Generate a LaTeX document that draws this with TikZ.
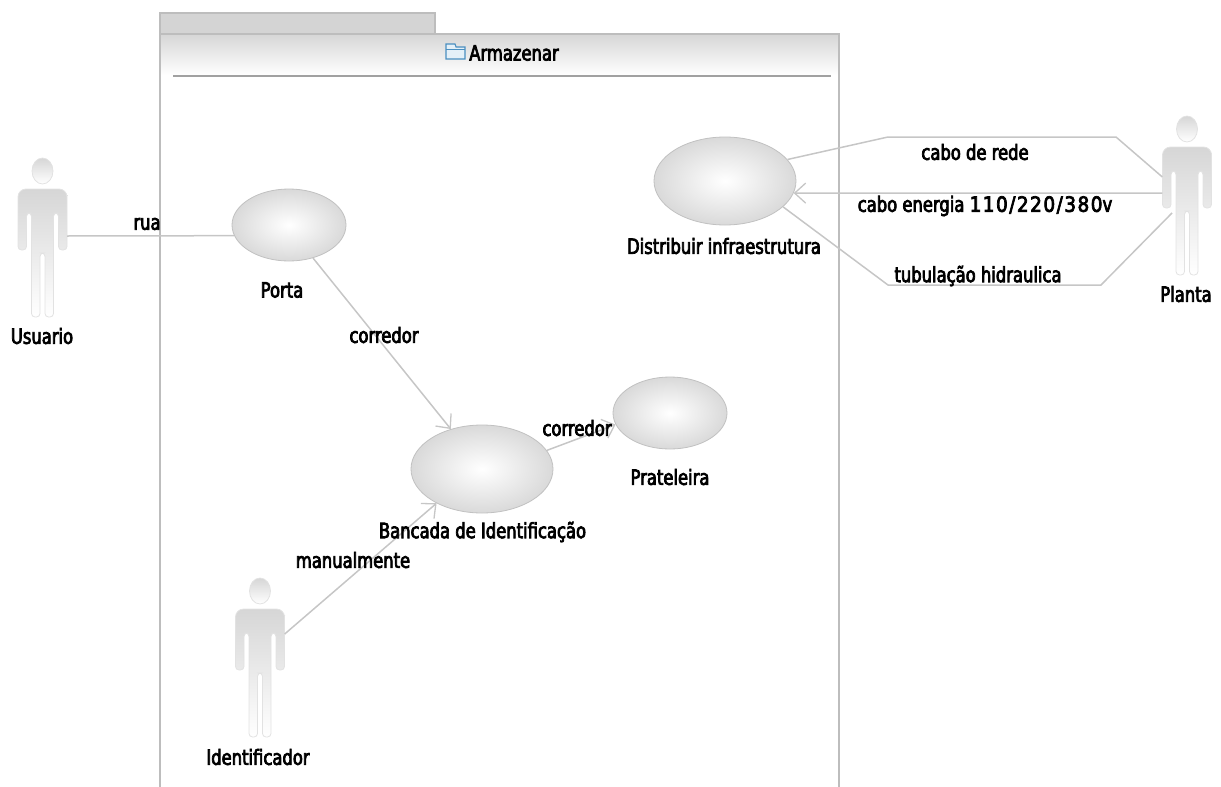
\documentclass[tikz,border=0pt]{standalone}
\usepackage{fontspec}
\setmainfont[FakeStretch=0.78,FakeBold=3.5]{DejaVu Sans}
\newfontfamily\digitfont[FakeStretch=0.88,FakeBold=3.5,LetterSpace=7]{DejaVu Sans}
\usetikzlibrary{shapes.geometric,arrows.meta,calc}
\definecolor{linegray}{HTML}{C6C6C6}
\definecolor{framegray}{HTML}{BDBDBD}
\definecolor{tabgray}{HTML}{D4D4D4}
\definecolor{shadegray}{HTML}{D6D6D6}
\definecolor{iconblue}{HTML}{4A8FC0}
\definecolor{iconfill}{HTML}{E4F0F8}
\tikzset{
  usecase/.style={ellipse,draw=shadegray!90!black,line width=0.8pt,inner color=white,outer color=shadegray!92!white,inner sep=0pt},
  actorbox/.style={rectangle,minimum width=49pt,minimum height=160pt,inner sep=0pt},
  actorpart/.style={draw=shadegray!70!white,line width=0.8pt,top color=shadegray,bottom color=white},
  conn/.style={draw=linegray,line width=1.5pt},
  openarrow/.style={-{Straight Barb[length=11pt,width=20pt,line width=1.3pt]}},
  lbl/.style={inner sep=0pt,font=\fontsize{21}{24}\selectfont,text=black},
  frameline/.style={draw=framegray,line width=1.5pt}
}
\newcommand{\myactor}[4]{%
  \node[actorbox] (#1) at (#2,#4) {};
  \begin{scope}[shift={(#2,#3)}]
    \path[actorpart] (0,13) ellipse [x radius=10.5,y radius=13];
    \path[actorpart] (-24.5,45) [rounded corners=8pt] -- (-24.5,31) -- (24.5,31) -- (24.5,45) [rounded corners=3.5pt] -- (24.5,92)--(16,92)--(16,55)--(11,55)--(11,159)--(2.5,159)--(2.5,95)--(-2.5,95)--(-2.5,159)--(-11,159)--(-11,55)--(-16,55)--(-16,92)--(-24.5,92)--cycle;
  \end{scope}}
\begin{document}
\begin{tikzpicture}[x=1pt,y=-1pt]
\useasboundingbox (0,0) rectangle (1221,787);
% package
\path[fill=tabgray,frameline] (160,34) -- (160,13) -- (435,13) -- (435,34) -- cycle;
\path[top color=shadegray,bottom color=white] (160,34) rectangle (839,75);
\draw[frameline] (160,787) -- (160,34) -- (839,34) -- (839,787);
\draw[draw=framegray!85!black,line width=1.2pt] (173,76) -- (831,76);
% folder icon
\path[draw=iconblue,fill=iconfill,line width=1.1pt] (446,59) -- (446,44) -- (455,44) -- (456,47) -- (465,47) -- (465,59) -- cycle;
\draw[iconblue,line width=1pt] (446,49) -- (465,49);
\node[lbl] (pkg) at (514,53) {Armazenar};
% use cases
\node[usecase,minimum width=114pt,minimum height=72pt] (porta) at (289,225) {};
\node[usecase,minimum width=142pt,minimum height=88pt] (dist) at (725,181) {};
\node[usecase,minimum width=142pt,minimum height=88pt] (banc) at (482,469) {};
\node[usecase,minimum width=114pt,minimum height=72pt] (prat) at (670,413) {};
% actors
\myactor{usuario}{42.5}{158}{236}
\myactor{planta}{1187}{116}{193}
\myactor{ident}{260}{578}{634}
% helper points
\coordinate (redeA) at (888,137);
\coordinate (redeB) at (1116,137);
\coordinate (tubA) at (888,285);
\coordinate (tubB) at (1101,285);
\coordinate (plantaleg) at (1172,213);
% connectors
\draw[conn] (usuario.east) -- (porta.191.5);
\draw[conn,openarrow] (porta.-54) -- (banc.128.5);
\draw[conn,openarrow] (banc.16) -- (prat.192.4);
\draw[conn,openarrow] (ident.east) -- (banc.217.9);
\draw[conn] (dist.19.5) -- (redeA) -- (redeB) -- (planta.147);
\draw[conn,openarrow] (planta.west) -- (dist.-10);
\draw[conn] (dist.-24) -- (tubA) -- (tubB) -- (plantaleg);
% labels
\node[lbl] (l1) at (147,224) {rua};
\node[lbl] (l2) at (282,290) {Porta};
\node[lbl] (l3) at (42,336) {Usuario};
\node[lbl] (l4) at (384,335) {corredor};
\node[lbl] (l5) at (577,428) {corredor};
\node[lbl] (l6) at (670,477) {Prateleira};
\node[lbl] (l7) at (482.5,532) {Bancada de Identificação};
\node[lbl] (l8) at (353,560) {manualmente};
\node[lbl] (l9) at (258,757) {Identificador};
\node[lbl] (l10) at (724,246) {Distribuir infraestrutura};
\node[lbl] (l11) at (975,152) {cabo de rede};
\node[lbl] (l12) at (985,206) {cabo energia {\digitfont 110/220/380}v};
\node[lbl] (l13) at (978,276) {tubulação hidraulica};
\node[lbl] (l14) at (1186,294) {Planta};
\end{tikzpicture}
\end{document}
